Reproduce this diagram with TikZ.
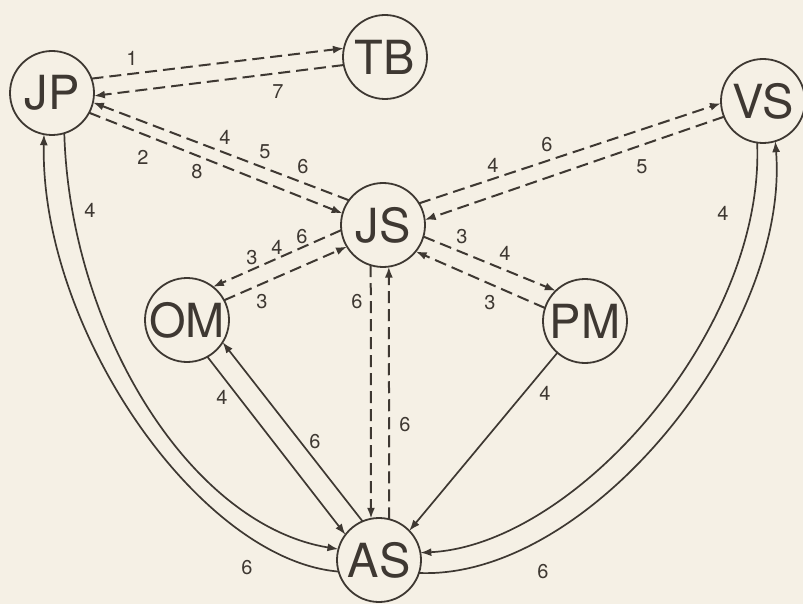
\documentclass[tikz,border=0pt]{standalone}
\usepackage{fontspec}
\setmainfont{TeX Gyre Heros}
\usetikzlibrary{arrows.meta}
\definecolor{paper}{RGB}{245,240,229}
\definecolor{ink}{RGB}{62,56,50}
\begin{document}
\begin{tikzpicture}[x=1pt,y=-1pt,
  st/.style={circle,draw=ink,line width=1.8pt,minimum size=84pt,inner sep=0pt,outer sep=0pt,
             font=\fontsize{47}{47}\selectfont,text=ink},
  con/.style={draw=ink,line width=1.7pt,-{Latex[length=11pt,width=8pt]}},
  dcon/.style={con,line width=2pt,dash pattern=on 12pt off 6pt},
  lab/.style={font=\fontsize{20}{20}\selectfont,text=ink,inner sep=0pt}]
\fill[paper] (0,0) rectangle (803,604);
\useasboundingbox (0,0) rectangle (803,604);

\node[st] (JP) at (52,93) {JP};
\node[st] (TB) at (385,57) {TB};
\node[st] (VS) at (763,101) {VS};
\node[st] (JS) at (383,225) {JS};
\node[st] (OM) at (187,320) {OM};
\node[st] (PM) at (585,321) {PM};
\node[st] (AS) at (379,560) {AS};

% dashed connectors
\draw[dcon] (JP.20) -- (TB.168);
\draw[dcon] (TB.191) -- (JP.-4);
\draw[dcon] (JP.-28) -- (JS.164);
\draw[dcon] (JS.144) -- (JP.-13);
\draw[dcon] (JS.31) -- (VS.183);
\draw[dcon] (VS.202) -- (JS.7);
\draw[dcon] (JS.187) -- (OM.52);
\draw[dcon] (OM.28) -- (JS.211);
\draw[dcon] (JS.-16) -- (PM.134);
\draw[dcon] (PM.162) -- (JS.-39);
\draw[dcon] (JS.253) -- (AS.101);
\draw[dcon] (AS.76) -- (JS.278);

% solid connectors
\draw[con] (OM.-61) -- (AS.143);
\draw[con] (AS.113) -- (OM.-32);
\draw[con] (PM.229) -- (AS.44);
\draw[con] (JP.-73) .. controls (70,330) and (190,525) .. (AS.165);
\draw[con] (AS.196) .. controls (200,560) and (40,330) .. (JP.259);
\draw[con] (VS.262) .. controls (765,330) and (575,545) .. (AS.10);
\draw[con] (AS.-18) .. controls (590,580) and (790,330) .. (VS.287);

% labels
\node[lab] (l1) at (132,58) {1};
\node[lab] (l7) at (278,92) {7};
\node[lab] (l2) at (143,157) {2};
\node[lab] (l8) at (197,172) {8};
\node[lab] (l4a) at (225,137) {4};
\node[lab] (l5a) at (265,152) {5};
\node[lab] (l6a) at (303,167) {6};
\node[lab] (l4b) at (493,165) {4};
\node[lab] (l6b) at (547,145) {6};
\node[lab] (l5b) at (642,167) {5};
\node[lab] (l3c) at (252,258) {3};
\node[lab] (l4c) at (277,247) {4};
\node[lab] (l6c) at (302,237) {6};
\node[lab] (l3d) at (262,302) {3};
\node[lab] (l3e) at (462,237) {3};
\node[lab] (l4e) at (505,253) {4};
\node[lab] (l3f) at (490,303) {3};
\node[lab] (l6g) at (357,302) {6};
\node[lab] (l6h) at (405,425) {6};
\node[lab] (l4i) at (222,397) {4};
\node[lab] (l6i) at (315,442) {6};
\node[lab] (l4j) at (545,393) {4};
\node[lab] (l4k) at (90,210) {4};
\node[lab] (l6k) at (247,568) {6};
\node[lab] (l4m) at (723,213) {4};
\node[lab] (l6m) at (543,572) {6};
\end{tikzpicture}
\end{document}
